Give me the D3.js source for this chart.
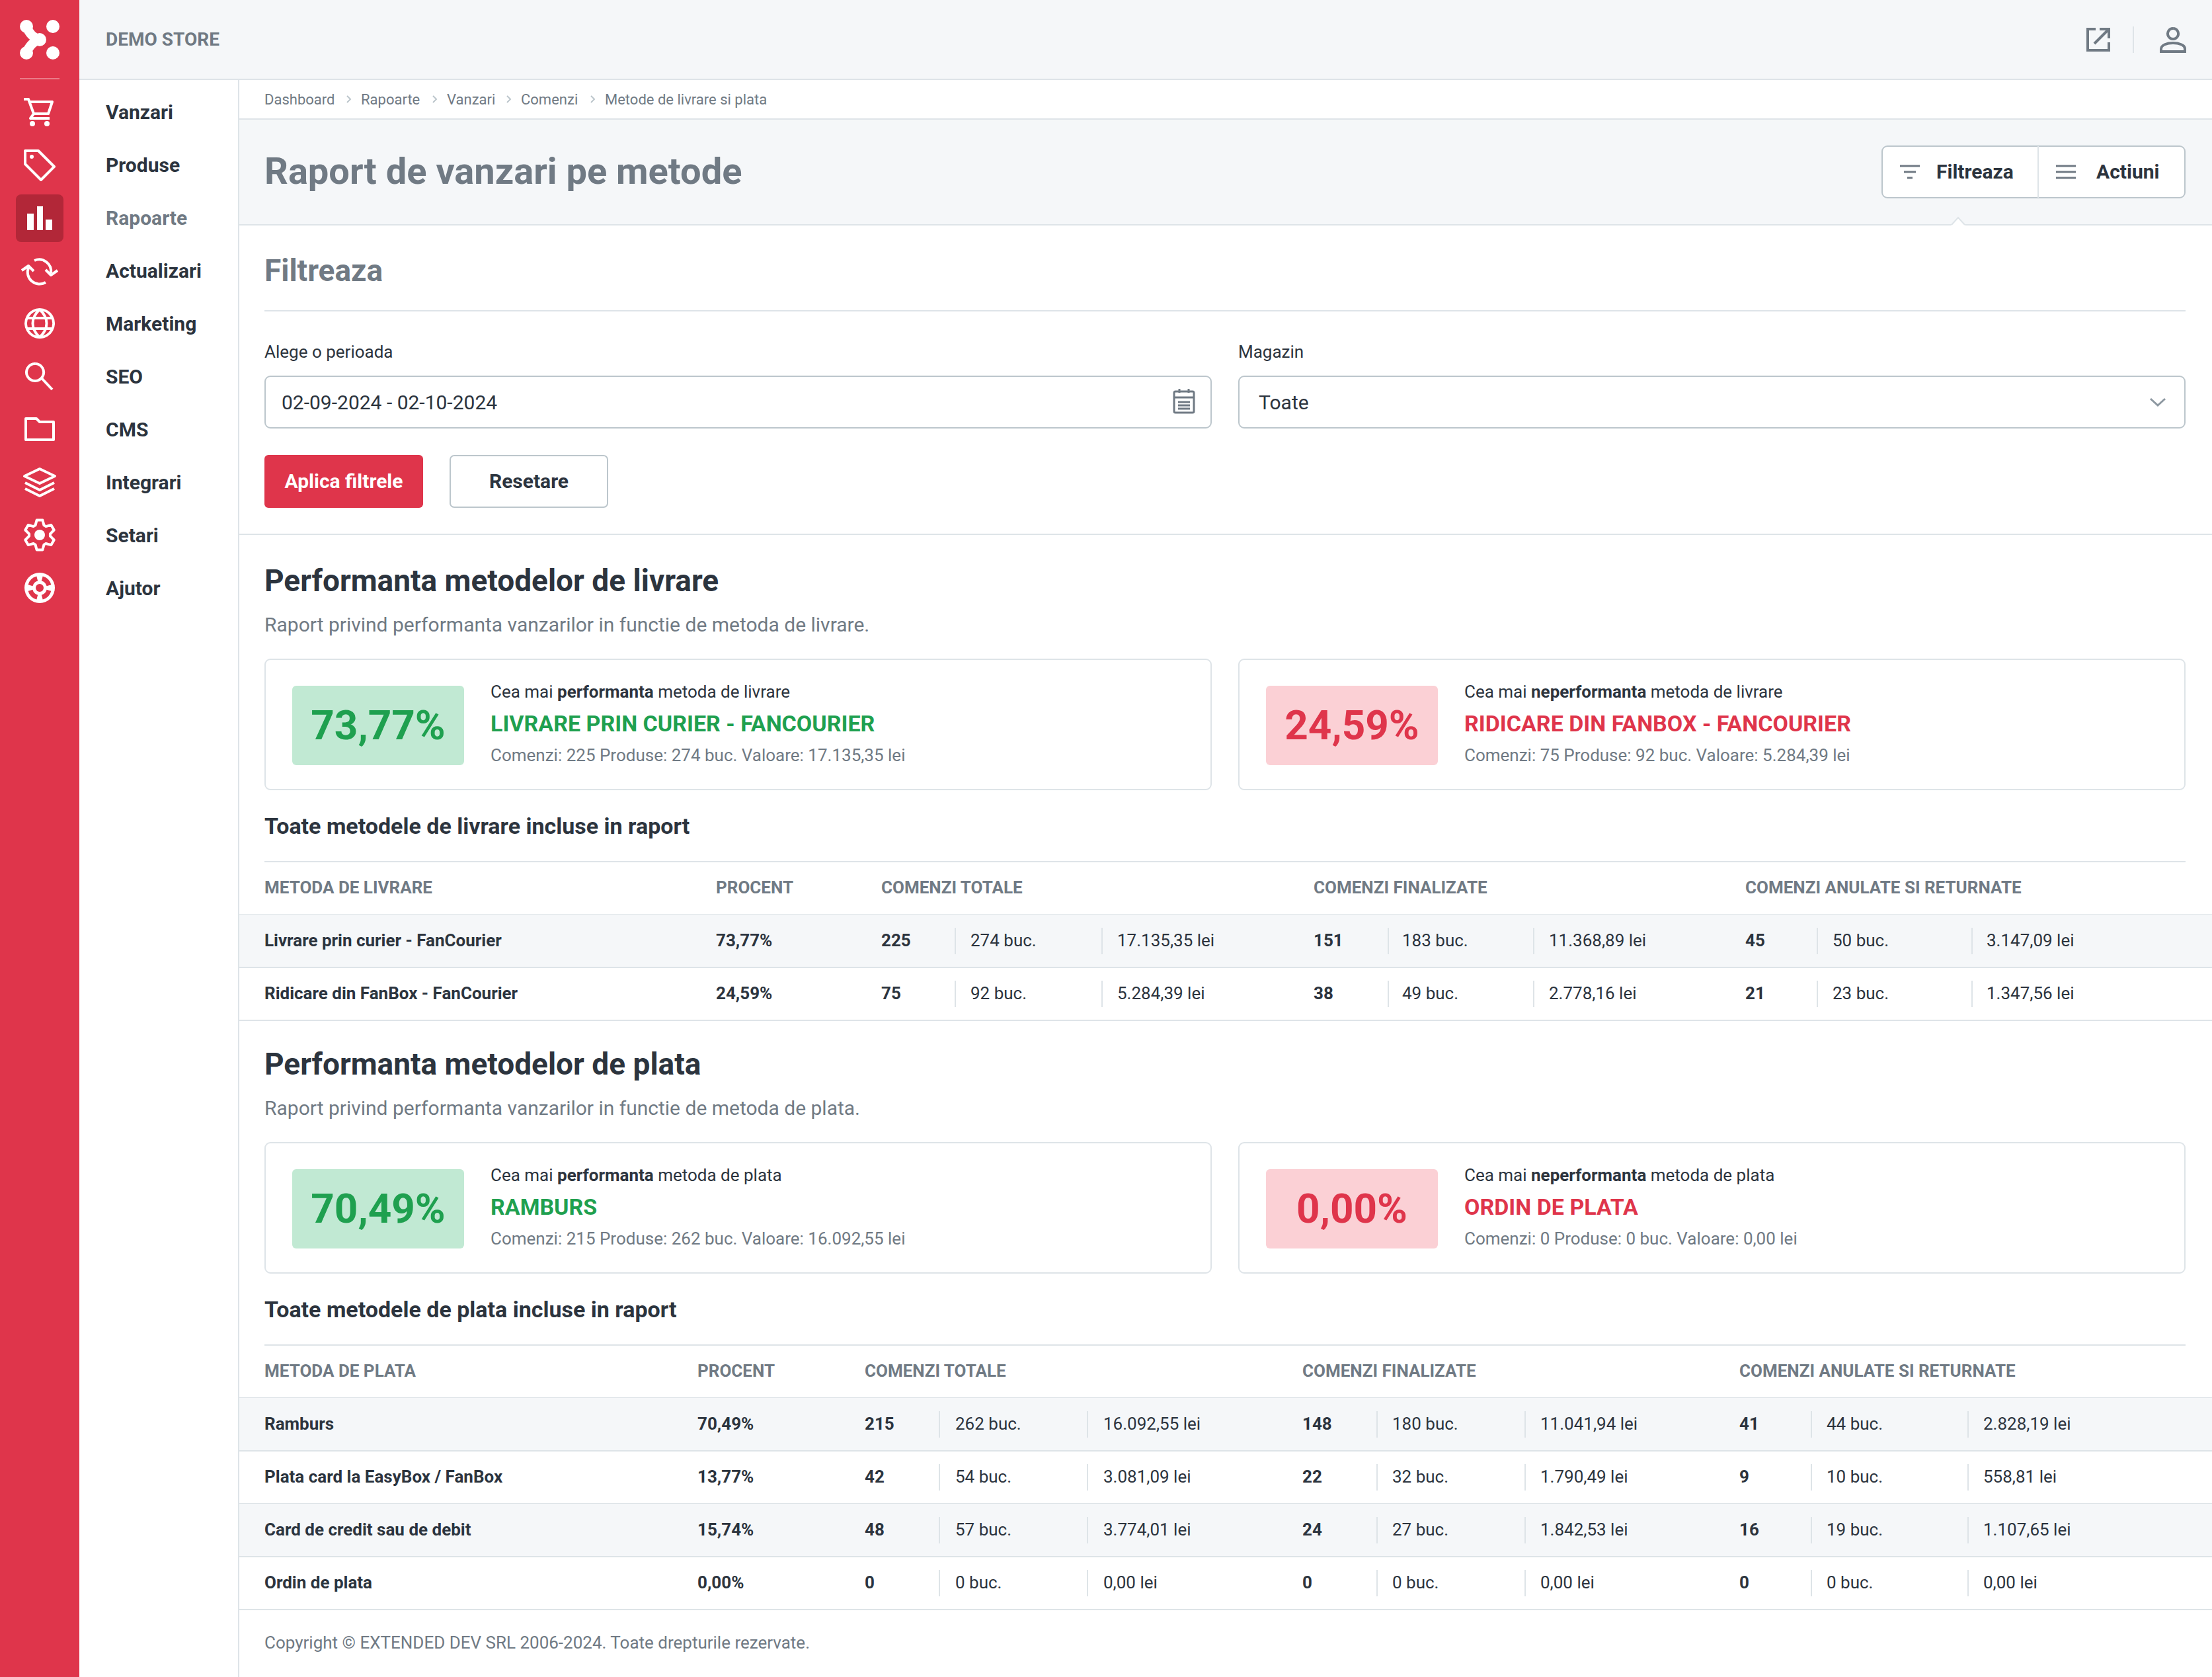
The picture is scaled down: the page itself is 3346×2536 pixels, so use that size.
<!DOCTYPE html>
<html>
<head>
<meta charset="utf-8">
<script src="https://cdn.jsdelivr.net/npm/d3@7"></script>
<style>
html, body { margin: 0; padding: 0; background: #fff; }
svg { display: block; font-family: Roboto, sans-serif; }
</style>
</head>
<body>
<div id="page"></div>
<script>
// navigation
const navItems = ['Vanzari', 'Produse', 'Rapoarte', 'Actualizari', 'Marketing', 'SEO', 'CMS', 'Integrari', 'Setari', 'Ajutor']
const crumbs = ['Dashboard', 'Rapoarte', 'Vanzari', 'Comenzi', 'Metode de livrare si plata']

// delivery methods
const livrareNames = ['Livrare prin curier - FanCourier', 'Ridicare din FanBox - FanCourier']
const livrarePercent = [73.77, 24.59]
const livrareTotalOrders = [225, 75]
const livrareTotalItems = [274, 92]
const livrareTotalValue = [17135.35, 5284.39]
const livrareDoneOrders = [151, 38]
const livrareDoneItems = [183, 49]
const livrareDoneValue = [11368.89, 2778.16]
const livrareLostOrders = [45, 21]
const livrareLostItems = [50, 23]
const livrareLostValue = [3147.09, 1347.56]

// payment methods
const plataNames = ['Ramburs', 'Plata card la EasyBox / FanBox', 'Card de credit sau de debit', 'Ordin de plata']
const plataPercent = [70.49, 13.77, 15.74, 0]
const plataTotalOrders = [215, 42, 48, 0]
const plataTotalItems = [262, 54, 57, 0]
const plataTotalValue = [16092.55, 3081.09, 3774.01, 0]
const plataDoneOrders = [148, 22, 24, 0]
const plataDoneItems = [180, 32, 27, 0]
const plataDoneValue = [11041.94, 1790.49, 1842.53, 0]
const plataLostOrders = [41, 9, 16, 0]
const plataLostItems = [44, 10, 19, 0]
const plataLostValue = [2828.19, 558.81, 1107.65, 0]

const RED = '#df354b', DARKRED = '#b22738', DARK = '#2c343e', GRAY = '#707a84'
const LINE = '#dee4e8', PANEL = '#f5f7f9', BORDER = '#bcc6cc', GREEN = '#1fa04f'

const ro = d3.formatLocale({decimal: ',', thousands: '.', grouping: [3], currency: ['', '']})
const money = v => ro.format(',.2f')(v) + ' lei'
const pct = v => ro.format('.2f')(v) + '%'

const width = 3346, height = 2536
const svg = d3.select('#page').append('svg').attr('width', width).attr('height', height)

function label(parent, x, y, str, size, weight, fill, anchor) {
    return parent.append('text')
        .attr('x', x).attr('y', y)
        .attr('dominant-baseline', 'central')
        .attr('text-anchor', anchor || 'start')
        .attr('font-size', size)
        .attr('font-weight', weight || 400)
        .attr('fill', fill || DARK)
        .text(str)
}
function box(x, y, w, h, fill, stroke, r, sw) {
    return svg.append('rect').attr('x', x).attr('y', y).attr('width', w).attr('height', h)
        .attr('fill', fill).attr('stroke', stroke || 'none').attr('stroke-width', sw || 2).attr('rx', r || 0)
}
function hline(x1, x2, y, color, sw) {
    svg.append('line').attr('x1', x1).attr('x2', x2).attr('y1', y).attr('y2', y)
        .attr('stroke', color || LINE).attr('stroke-width', sw || 2)
}
function vline(x, y1, y2, color, sw) {
    svg.append('line').attr('x1', x).attr('x2', x).attr('y1', y1).attr('y2', y2)
        .attr('stroke', color || LINE).attr('stroke-width', sw || 2)
}

// page frame
box(120, 0, width - 120, 120, PANEL)
hline(120, width, 120)
box(362, 180, width - 362, 160, PANEL)
hline(362, width, 180)
hline(362, width, 340)
vline(361, 120, height)
box(0, 0, 120, height, RED)

// logo
const logo = svg.append('g')
logo.append('path').attr('fill', 'none').attr('stroke', '#fff').attr('stroke-width', 14)
    .attr('stroke-linejoin', 'round').attr('d', 'M40 40Q46 56 60 60Q46 64 40 80')
logo.selectAll('circle').data([[40, 40], [40, 80], [60, 60], [80, 40], [80, 80]]).join('circle')
    .attr('cx', d => d[0]).attr('cy', d => d[1]).attr('r', 10).attr('fill', '#fff')
hline(30, 90, 119, 'rgba(255,255,255,.35)', 2)

// sidebar icons, one per nav row
const navY = d3.scalePoint().domain(navItems).range([169, 889])
box(24, 294, 72, 72, DARKRED, null, 8)
const iconPaths = {
    Vanzari: 'M-24-19h7l8 22h22l6-18h-34 M-9 3l-5 7h29',
    Produse: 'M-22-21h20l24 24-20 20-24-24z',
    Actualizari: 'M-8-15A18 18 0 0 1 17 4 M9-1l8 8 10-7 M9 18A18 18 0 0 1-17-4 M-27 0l10-7 8 8',
    Marketing: 'M0-21a21 21 0 1 0 .1 0 M-19-8h38 M-19 8h38 M0-21c-14 13-14 29 0 42 M0-21c14 13 14 29 0 42',
    SEO: 'M-7-19a13 13 0 1 0 .1 0 M3 3l16 17',
    CMS: 'M-21-16h16l5 5h21v27h-42z',
    Integrari: 'M-23-9l23-11 23 11-23 11z M-22 1l22 11 22-11 M-22 10l22 11 22-11'
}
// gear outline for Setari, six teeth
const gearAngles = d3.range(6).flatMap(k => [-24, -11, 11, 24].map(d => [(k * 60 + d) * Math.PI / 180, Math.abs(d) == 11 ? 23 : 16]))
const gearPath = d3.lineRadial().curve(d3.curveLinearClosed)(gearAngles)
const buoyArc = d3.arc().innerRadius(11).outerRadius(18)

navItems.forEach((name, i) => {
    const cy = navY(name)
    label(svg, 160, cy, name, 30, 700, name == 'Rapoarte' ? GRAY : DARK)
    const g = svg.append('g').attr('transform', `translate(60,${cy})`)
    if (iconPaths[name]) {
        g.append('path').attr('d', iconPaths[name]).attr('fill', 'none').attr('stroke', '#fff')
            .attr('stroke-width', 4).attr('stroke-linejoin', 'round')
    }
    if (name == 'Vanzari') {
        g.selectAll('circle').data([-11, 11]).join('circle').attr('cx', d => d).attr('cy', 18).attr('r', 4).attr('fill', '#fff')
    }
    if (name == 'Produse') {
        g.append('circle').attr('cx', -12).attr('cy', -12).attr('r', 3).attr('fill', '#fff')
    }
    if (name == 'Rapoarte') {
        g.selectAll('rect').data([[-19, -6, 10], [-4, -17, 9], [9, 3, 10]]).join('rect')
            .attr('x', d => d[0]).attr('y', d => d[1]).attr('width', d => d[2]).attr('height', d => 19 - d[1]).attr('fill', '#fff')
    }
    if (name == 'Setari') {
        g.append('path').attr('d', gearPath).attr('fill', 'none').attr('stroke', '#fff').attr('stroke-width', 4).attr('stroke-linejoin', 'round')
        g.append('circle').attr('r', 8).attr('fill', '#fff')
    }
    if (name == 'Ajutor') {
        g.append('circle').attr('r', 23).attr('fill', '#fff')
        g.append('g').selectAll('path').data([45, 135, 225, 315]).join('path')
            .attr('fill', RED)
            .attr('d', d => buoyArc({startAngle: (d - 30) * Math.PI / 180, endAngle: (d + 30) * Math.PI / 180}))
        g.append('circle').attr('r', 6).attr('fill', RED)
    }
})

// top bar
label(svg, 160, 59, 'DEMO STORE', 28, 700, GRAY)
svg.append('path').attr('fill', 'none').attr('stroke', GRAY).attr('stroke-width', 4)
    .attr('d', 'M3170 44h-12v32h32v-12 M3176 44h14v14 M3190 44l-22 22')
vline(3227, 40, 80)
svg.append('path').attr('fill', 'none').attr('stroke', GRAY).attr('stroke-width', 4)
    .attr('d', 'M3287 43a8 8 0 1 0 .1 0 M3269 78v-4c0-12 36-12 36 0v4z')

// breadcrumbs
const crumbX = [400, 546, 676, 788, 915]
crumbs.forEach((c, i) => {
    label(svg, crumbX[i], 150, c, 22, 400, GRAY)
    if (i) svg.append('path').attr('fill', 'none').attr('stroke', BORDER).attr('stroke-width', 2)
        .attr('d', `M${crumbX[i] - 21} 145l5 5-5 5`)
})

// page heading
label(svg, 400, 259, 'Raport de vanzari pe metode', 56, 700, GRAY)
box(2847, 221, 458, 78, '#fff', BORDER, 8, 2)
vline(3083, 221, 299, LINE)
label(svg, 2929, 259, 'Filtreaza', 30, 700, DARK)
label(svg, 3171, 259, 'Actiuni', 30, 700, DARK)
svg.append('path').attr('fill', 'none').attr('stroke', GRAY).attr('stroke-width', 3)
    .attr('d', 'M2874 251h30 M2880 260h18 M2885 269h8 M3110 251h30 M3110 260h30 M3110 269h30')
svg.append('path').attr('fill', '#fff').attr('stroke', LINE).attr('stroke-width', 2)
    .attr('d', 'M2951 341l11-12 11 12')
hline(2951, 2973, 341.5, '#fff', 2)

// filter form
label(svg, 400, 409, 'Filtreaza', 46, 700, GRAY)
hline(400, 3306, 470)
label(svg, 400, 532, 'Alege o perioada', 26, 400, DARK)
label(svg, 1873, 532, 'Magazin', 26, 400, DARK)
box(401, 569, 1431, 78, '#fff', BORDER, 8)
box(1874, 569, 1431, 78, '#fff', BORDER, 8)
label(svg, 426, 608, '02-09-2024 - 02-10-2024', 30, 400, DARK)
label(svg, 1904, 608, 'Toate', 30, 400, DARK)
svg.append('path').attr('fill', 'none').attr('stroke', GRAY).attr('stroke-width', 3)
    .attr('d', 'M1778 592h26a2 2 0 0 1 2 2v28a2 2 0 0 1-2 2h-26a2 2 0 0 1-2-2v-28a2 2 0 0 1 2-2z M1776 601h30 M1784 588v6 M1798 588v6 M1782 608h18 M1782 613h18 M1782 618h18')
svg.append('path').attr('fill', 'none').attr('stroke', '#8d98a1').attr('stroke-width', 3)
    .attr('d', 'M3253 603l11 10 11-10')
box(400, 688, 240, 80, RED, null, 6)
label(svg, 520, 727, 'Aplica filtrele', 30, 700, '#fff', 'middle')
box(681, 689, 238, 78, '#fff', BORDER, 6)
label(svg, 800, 727, 'Resetare', 30, 700, DARK, 'middle')
hline(362, width, 808)

// performance card with coloured percentage
function card(x, y, value, color, tint, prefix, strong, suffix, name, detail) {
    box(x + 1, y + 1, 1431, 197, '#fff', LINE, 8)
    box(x + 42, y + 41, 260, 120, tint, null, 6)
    label(svg, x + 172, y + 100, value, 62, 700, color, 'middle')
    const t = label(svg, x + 342, y + 50, prefix, 26, 400, DARK)
    t.append('tspan').attr('font-weight', 700).text(strong)
    t.append('tspan').text(suffix)
    label(svg, x + 342, y + 98, name, 34, 700, color)
    label(svg, x + 342, y + 146, detail, 26, 400, GRAY)
}

function section(top, title, sub, cards, subTitle, header, cols, rows) {
    label(svg, 400, top, title, 46, 700, DARK)
    label(svg, 400, top + 66, sub, 30, 400, GRAY)
    card(400, top + 118, ...cards[0])
    card(1873, top + 118, ...cards[1])
    label(svg, 400, top + 371, subTitle, 34, 700, DARK)
    hline(400, 3306, top + 425)
    const head = top + 464
    header.forEach((h, i) => label(svg, cols.head[i], head, h, 26, 700, GRAY))
    hline(362, width, top + 505)

    const y = d3.scaleBand().domain(rows.names).range([top + 505, top + 505 + 80 * rows.names.length])
    rows.names.forEach((name, i) => {
        const r0 = y(name), mid = r0 + y.bandwidth() / 2
        if (i % 2 == 0) box(362, r0, width - 362, y.bandwidth(), PANEL)
        hline(362, width, r0 + y.bandwidth())
        label(svg, 400, mid - 1, name, 26, 700, DARK)
        label(svg, cols.head[1], mid - 1, pct(rows.percent[i]), 26, 700, DARK)
        rows.groups.forEach((group, g) => {
            const c = cols.groups[g]
            label(svg, c[0], mid - 1, group[0][i], 26, 700, DARK)
            vline(c[1], mid - 20, mid + 20)
            label(svg, c[2], mid - 1, group[1][i] + ' buc.', 26, 400, DARK)
            vline(c[3], mid - 20, mid + 20)
            label(svg, c[4], mid - 1, money(group[2][i]), 26, 400, DARK)
        })
    })
}

section(878, 'Performanta metodelor de livrare', 'Raport privind performanta vanzarilor in functie de metoda de livrare.',
    [[pct(73.77), GREEN, '#c1e9d3', 'Cea mai ', 'performanta', ' metoda de livrare', 'LIVRARE PRIN CURIER - FANCOURIER', 'Comenzi: 225 Produse: 274 buc. Valoare: 17.135,35 lei'],
     [pct(24.59), RED, '#fbd0d5', 'Cea mai ', 'neperformanta', ' metoda de livrare', 'RIDICARE DIN FANBOX - FANCOURIER', 'Comenzi: 75 Produse: 92 buc. Valoare: 5.284,39 lei']],
    'Toate metodele de livrare incluse in raport',
    ['METODA DE LIVRARE', 'PROCENT', 'COMENZI TOTALE', 'COMENZI FINALIZATE', 'COMENZI ANULATE SI RETURNATE'],
    {head: [400, 1083, 1333, 1987, 2640],
     groups: [[1333, 1445, 1468, 1667, 1690], [1987, 2100, 2121, 2320, 2343], [2640, 2749, 2772, 2983, 3005]]},
    {names: livrareNames, percent: livrarePercent,
     groups: [[livrareTotalOrders, livrareTotalItems, livrareTotalValue],
              [livrareDoneOrders, livrareDoneItems, livrareDoneValue],
              [livrareLostOrders, livrareLostItems, livrareLostValue]]})

section(1609, 'Performanta metodelor de plata', 'Raport privind performanta vanzarilor in functie de metoda de plata.',
    [[pct(70.49), GREEN, '#c1e9d3', 'Cea mai ', 'performanta', ' metoda de plata', 'RAMBURS', 'Comenzi: 215 Produse: 262 buc. Valoare: 16.092,55 lei'],
     [pct(0), RED, '#fbd0d5', 'Cea mai ', 'neperformanta', ' metoda de plata', 'ORDIN DE PLATA', 'Comenzi: 0 Produse: 0 buc. Valoare: 0,00 lei']],
    'Toate metodele de plata incluse in raport',
    ['METODA DE PLATA', 'PROCENT', 'COMENZI TOTALE', 'COMENZI FINALIZATE', 'COMENZI ANULATE SI RETURNATE'],
    {head: [400, 1055, 1308, 1970, 2631],
     groups: [[1308, 1421, 1445, 1645, 1669], [1970, 2083, 2106, 2307, 2330], [2631, 2740, 2763, 2977, 3000]]},
    {names: plataNames, percent: plataPercent,
     groups: [[plataTotalOrders, plataTotalItems, plataTotalValue],
              [plataDoneOrders, plataDoneItems, plataDoneValue],
              [plataLostOrders, plataLostItems, plataLostValue]]})

label(svg, 400, 2484, 'Copyright © EXTENDED DEV SRL 2006-2024. Toate drepturile rezervate.', 26, 400, GRAY)
</script>
</body>
</html>
